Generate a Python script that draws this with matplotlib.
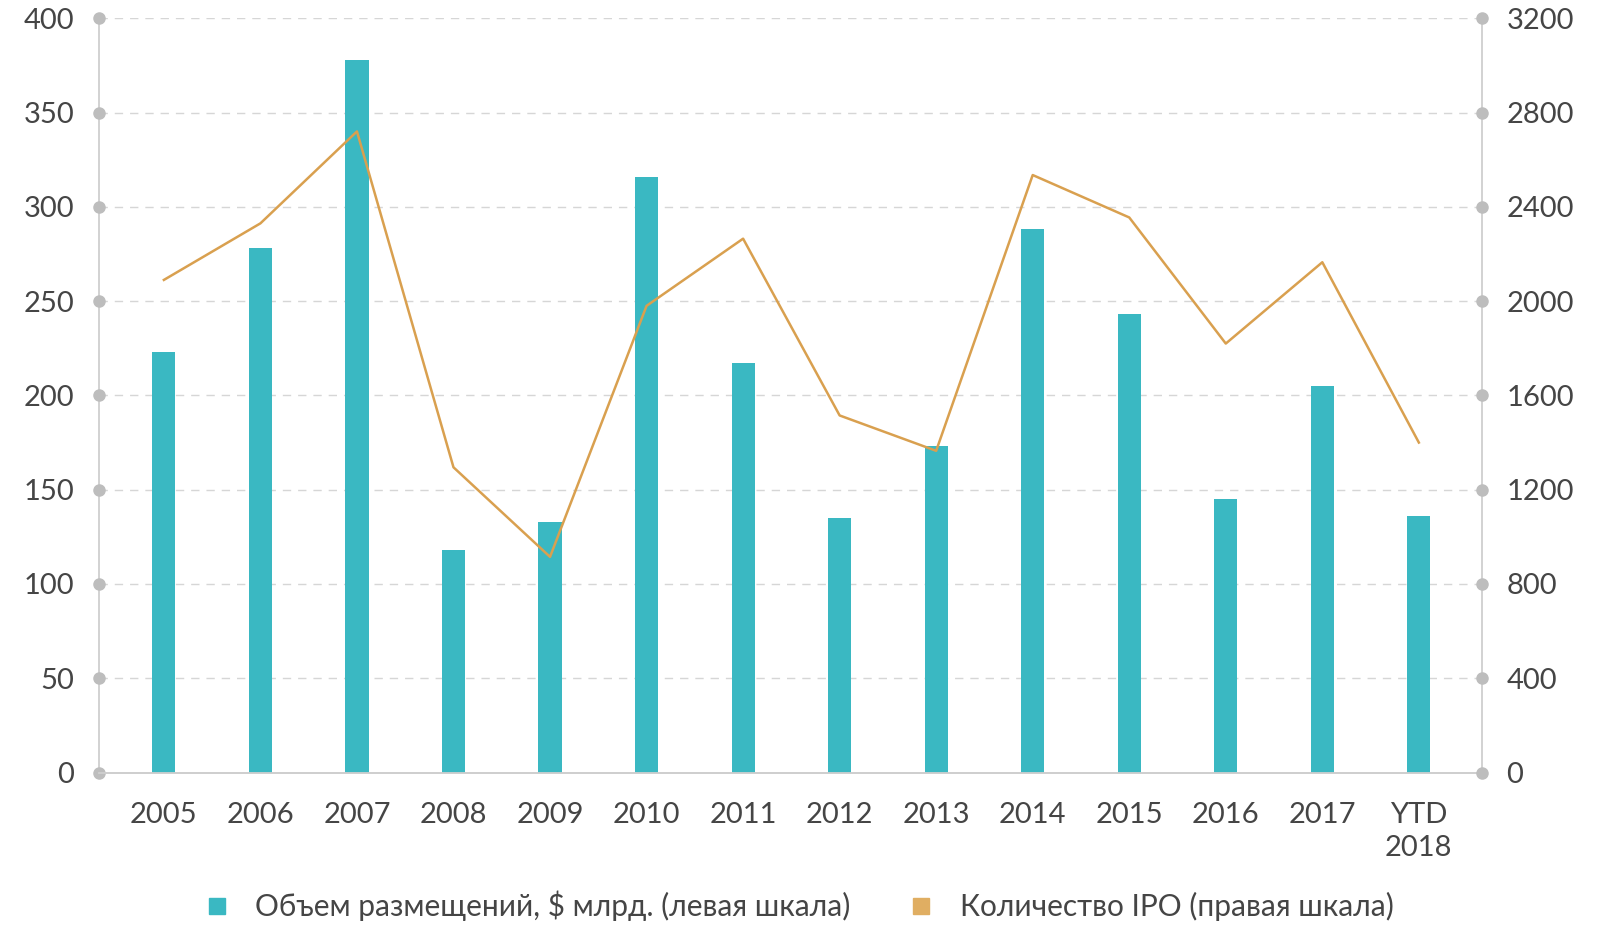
import matplotlib
matplotlib.use("Agg")
import matplotlib.pyplot as plt
from matplotlib.lines import Line2D
import numpy as np

# =========================================================
# DATA
# =========================================================

years = ["2005", "2006", "2007", "2008", "2009", "2010", "2011",
         "2012", "2013", "2014", "2015", "2016", "2017", "YTD\n2018"]
volume_bn = [223, 278, 378, 118, 133, 316, 217, 135, 173, 288, 243, 145, 205, 136]
ipo_count = [2090, 2330, 2720, 1295, 915, 1980, 2265, 1515, 1365, 2535, 2355, 1820, 2165, 1400]

left_ticks = [0, 50, 100, 150, 200, 250, 300, 350, 400]
right_ticks = [0, 400, 800, 1200, 1600, 2000, 2400, 2800, 3200]

label_volume = "Объем размещений, $ млрд. (левая шкала)"
label_count = "Количество IPO (правая шкала)"

# =========================================================
# STYLE
# =========================================================

TEAL = "#3ab8c2"
GOLD = "#d9a04f"
GOLD_LEGEND = "#e0ae62"
AXIS_GREY = "#cfcfcf"
DOT_GREY = "#bdbdbd"
TEXT = "#454545"

# Lato Light is not picked up here, regular Lato is the closest match
plt.rcParams["font.family"] = ["Lato", "DejaVu Sans"]
plt.rcParams["font.weight"] = "normal"

fig = plt.figure(figsize=(16, 9.38), dpi=100)
ax = fig.add_axes([0.062, 0.1764, 0.864, 0.8041])
ax2 = ax.twinx()

x = np.arange(len(years))

ax.bar(x, volume_bn, width=0.24, color=TEAL, zorder=3)
ax2.plot(x, ipo_count, color=GOLD, linewidth=1.8, zorder=4)

ax.set_ylim(0, 400)
ax2.set_ylim(0, 3200)
ax.set_xlim(-0.67, 13.65)

ax.set_yticks(left_ticks)
ax2.set_yticks(right_ticks)
ax.set_xticks(x)
ax.set_xticklabels(years, linespacing=1.35)

# gridlines
ax.grid(axis="y", color="#d6d6d6", linestyle=(0, (6, 5)), linewidth=1.0, zorder=0)
ax.set_axisbelow(True)

for a in (ax, ax2):
    a.spines["top"].set_visible(False)
    for s in ("left", "right", "bottom"):
        a.spines[s].set_color(AXIS_GREY)
        a.spines[s].set_linewidth(1.3)
ax.spines["right"].set_visible(False)
ax2.spines["left"].set_visible(False)

ax.tick_params(axis="y", length=0, pad=18, labelsize=21, labelcolor=TEXT)
ax2.tick_params(axis="y", length=0, pad=18, labelsize=21, labelcolor=TEXT)
ax.tick_params(axis="x", length=0, pad=21, labelsize=21, labelcolor=TEXT)

# grey dots on the axes at each tick
ax.plot(np.full(len(left_ticks), -0.67), left_ticks, "o", color=DOT_GREY,
        markersize=8, clip_on=False, zorder=5)
ax2.plot(np.full(len(right_ticks), 13.65), right_ticks, "o", color=DOT_GREY,
         markersize=8, clip_on=False, zorder=5)

# legend
handles = [
    Line2D([], [], marker="s", linestyle="none", markersize=12,
           markerfacecolor=TEAL, markeredgecolor=TEAL, label=label_volume),
    Line2D([], [], marker="s", linestyle="none", markersize=12,
           markerfacecolor=GOLD_LEGEND, markeredgecolor=GOLD_LEGEND, label=label_count),
]
leg = fig.legend(handles=handles, loc="center", bbox_to_anchor=(0.4985, 0.034),
                 ncol=2, frameon=False, fontsize=21.5, handletextpad=0.8,
                 columnspacing=1.85, handlelength=1.0)
for t in leg.get_texts():
    t.set_color(TEXT)

fig.savefig("out.png", dpi=100)
